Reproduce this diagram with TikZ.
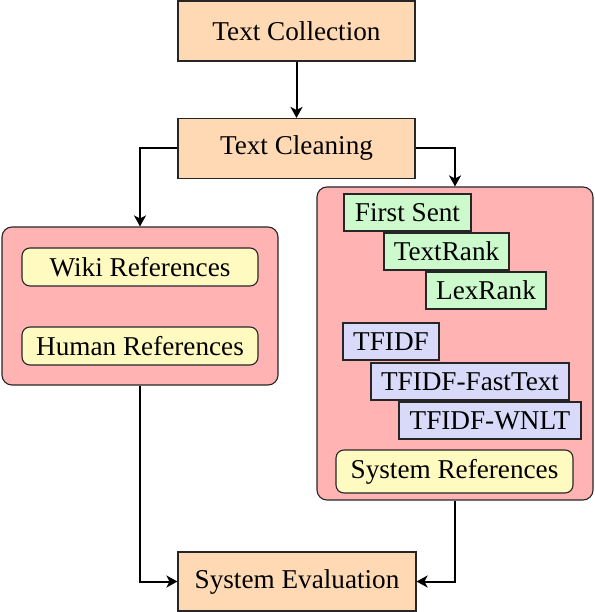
\documentclass[tikz,border=0pt]{standalone}
\usepackage{fontspec}
\setmainfont{Liberation Serif}
\usetikzlibrary{arrows.meta}
\definecolor{peach}{RGB}{255,217,179}
\definecolor{pinkbg}{RGB}{255,179,179}
\definecolor{yel}{RGB}{255,250,192}
\definecolor{grn}{RGB}{204,250,204}
\definecolor{blu}{RGB}{217,217,250}
\tikzset{
  every node/.style={font=\fontsize{27.2}{32}\selectfont, inner sep=0pt, line width=1.1pt},
  stagebox/.style={draw=black!85, fill=peach, minimum width=237pt, minimum height=60pt},
  groupbox/.style={draw=black!85, fill=pinkbg, rounded corners=10pt},
  refbox/.style={draw=black!85, fill=yel, rounded corners=8pt},
  grnbox/.style={draw=black!85, fill=grn},
  blubox/.style={draw=black!85, fill=blu},
  arr/.style={line width=2pt, -{Stealth[length=11pt,width=12pt,inset=3pt]}}
}
\begin{document}
\begin{tikzpicture}[x=1pt,y=-1pt]
\useasboundingbox (0,0) rectangle (594,612);
% stages
\node[stagebox] (coll) at (296.5,31) {Text Collection};
\node[stagebox] (clean) at (296.5,148.5) {Text Cleaning};
\node[stagebox, minimum width=238pt, minimum height=59pt] (eval) at (297,581.5) {System Evaluation};
% left group
\node[groupbox, minimum width=276pt, minimum height=158pt] (lgroup) at (140,306) {};
\node[refbox, minimum width=236pt, minimum height=38pt] (wiki) at (140,267) {Wiki References};
\node[refbox, minimum width=236pt, minimum height=38pt] (human) at (140,346) {Human References};
% right group
\node[groupbox, minimum width=276pt, minimum height=313pt] (rgroup) at (455,343.5) {};
\node[grnbox, minimum width=127pt, minimum height=37pt] (first) at (407.5,212.5) {First Sent};
\node[grnbox, minimum width=125pt, minimum height=37pt] (textrank) at (446.5,251.5) {TextRank};
\node[grnbox, minimum width=120pt, minimum height=37pt] (lexrank) at (486,290.5) {LexRank};
\node[blubox, minimum width=96pt, minimum height=37pt] (tfidf) at (391,341.5) {TFIDF};
\node[blubox, minimum width=198pt, minimum height=37pt] (fasttext) at (470,381.5) {TFIDF-FastText};
\node[blubox, minimum width=182pt, minimum height=37pt] (wnlt) at (490,420.5) {TFIDF-WNLT};
\node[refbox, minimum width=237pt, minimum height=43pt] (sysref) at (454.5,471.5) {System References};
% connectors
\draw[arr] (coll.south) -- (clean.north);
\draw[arr] (clean.west) -| (lgroup.north);
\draw[arr] (clean.east) -| (rgroup.north);
\draw[arr] (lgroup.south) |- (eval.west);
\draw[arr] (rgroup.south) |- (eval.east);
\end{tikzpicture}
\end{document}
